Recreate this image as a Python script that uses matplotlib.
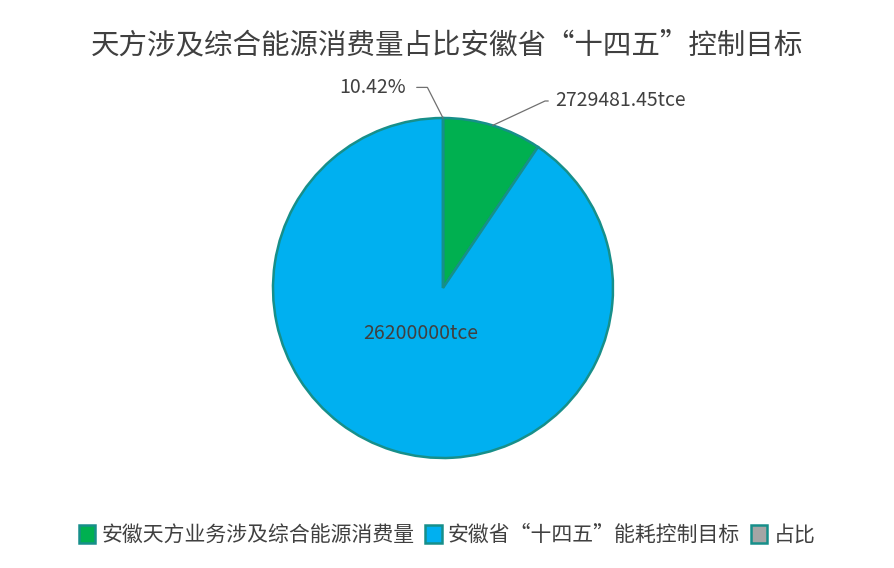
import numpy as np
import matplotlib.pyplot as plt

plt.rcParams['font.family'] = ['Noto Sans CJK SC', 'DejaVu Sans']

title = "天方涉及综合能源消费量占比安徽省“十四五”控制目标"
names = ["安徽天方业务涉及综合能源消费量", "安徽省“十四五”能耗控制目标", "占比"]
values = [2729481.45, 26200000, 0.1042]
labels = ["2729481.45tce", "26200000tce", "10.42%"]
colors = ["#00b050", "#00b0f0", "#a5a5a5"]

fig = plt.figure(figsize=(8.94, 5.68), dpi=100)
# pie box: centre (443, 288) px, radius ~170 px
ax = fig.add_axes([(443 - 170) / 894, (568 - 288 - 170) / 568, 340 / 894, 340 / 568])
ax.set_aspect('equal')

wedges, _ = ax.pie(values, colors=colors, startangle=90, counterclock=False,
                   wedgeprops=dict(edgecolor="#178f8a", linewidth=1.8))
ax.set_xlim(-1, 1)
ax.set_ylim(-1, 1)

# labels with leader lines
w0 = wedges[0]
mid0 = np.deg2rad((w0.theta1 + w0.theta2) / 2)
ax.annotate(labels[0], xy=(np.cos(mid0), np.sin(mid0)), xytext=(0.66, 1.10),
            fontsize=14, color="#404040", va="center", ha="left",
            arrowprops=dict(arrowstyle="-", color="#707070", lw=0.9, shrinkA=3, shrinkB=0,
                            connectionstyle="angle,angleA=0,angleB=25,rad=0"))
ax.text(-0.13, -0.27, labels[1], fontsize=14, color="#404040", ha="center", va="center")
w2 = wedges[2]
mid2 = np.deg2rad((w2.theta1 + w2.theta2) / 2)
ax.annotate(labels[2], xy=(np.cos(mid2), np.sin(mid2)), xytext=(-0.22, 1.18),
            fontsize=14, color="#404040", va="center", ha="right",
            arrowprops=dict(arrowstyle="-", color="#707070", lw=0.9, shrinkA=6, shrinkB=0,
                            connectionstyle="angle,angleA=0,angleB=-63,rad=0"))

fig.text(0.5, 0.921, title, fontsize=20.5, color="#404040", ha="center", va="center")

fig.legend(wedges, names, loc="center", bbox_to_anchor=(0.5, 0.058), ncol=3,
           frameon=False, fontsize=15, handlelength=0.8, handleheight=1.0,
           handletextpad=0.3, columnspacing=0.5, labelcolor="#404040")

fig.savefig("out.png", dpi=100, facecolor="white")
